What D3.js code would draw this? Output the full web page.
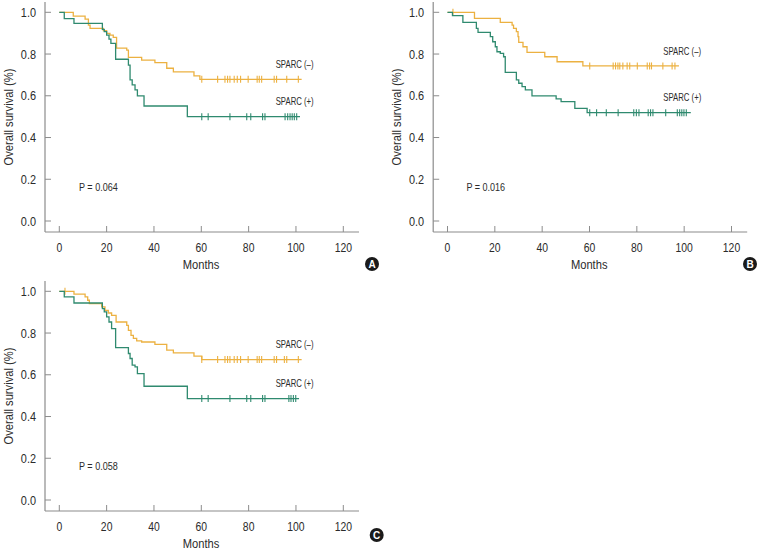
<script src="https://cdn.jsdelivr.net/npm/d3@7"></script>
<style>
  body { margin: 0; background: #fff; }
  text { font-family: "Liberation Sans", Arial, sans-serif; fill: #2b2b2b; }
</style>
<div id="vis"></div>
<script>
  // tick values
  const monthTicks = [0, 20, 40, 60, 80, 100, 120]
  const survTicks = [0, 0.2, 0.4, 0.6, 0.8, 1.0]

  // panel A
  const aNegTime = [0, 5.9, 10.9, 12.3, 13, 18.6, 20, 21.4, 22.8, 24.2, 28.5, 29.2, 34.8, 40.4, 45.4, 48.2, 56.9, 59.4]
  const aNegSurv = [1, 0.982, 0.967, 0.939, 0.923, 0.912, 0.899, 0.891, 0.880, 0.828, 0.819, 0.784, 0.771, 0.759, 0.732, 0.715, 0.695, 0.679]
  const aNegCens = [60.2, 66.9, 70, 71.1, 72.1, 73.9, 75.2, 76.6, 79.8, 83.6, 84.5, 85.5, 90.8, 91.8, 96.1, 101]
  const aPosTime = [0, 2.1, 6.2, 18.2, 19, 20, 21, 21.8, 23.8, 29.2, 29.9, 30.8, 32, 33, 35.8, 54.1]
  const aPosSurv = [1, 0.970, 0.947, 0.918, 0.907, 0.891, 0.871, 0.851, 0.775, 0.747, 0.676, 0.652, 0.628, 0.600, 0.551, 0.500]
  const aPosCens = [60.2, 62.9, 72.1, 79.2, 80.9, 85.9, 86.9, 95.4, 96.5, 97.5, 98.4, 99.3, 100.3]

  // panel B
  const bNegTime = [0, 11.4, 22.3, 27.3, 27.9, 29.1, 29.8, 30.1, 31.9, 33.6, 41.1, 46.3, 57.2]
  const bNegSurv = [1, 0.971, 0.952, 0.939, 0.923, 0.907, 0.883, 0.856, 0.835, 0.808, 0.787, 0.763, 0.743]
  const bNegCens = [2.3, 60.1, 70, 71, 72, 72.8, 74.1, 75.9, 77, 80.2, 84.4, 85.4, 86.2, 91, 94.9, 96.1]
  const bPosTime = [0, 2.1, 6.5, 12.2, 12.9, 18.1, 19.1, 20.2, 20.9, 22.3, 23.7, 24.4, 29.1, 30.1, 31.5, 32.9, 35.7, 45.9, 48, 53.8, 59]
  const bPosSurv = [1, 0.984, 0.952, 0.923, 0.904, 0.883, 0.859, 0.835, 0.811, 0.803, 0.787, 0.712, 0.676, 0.660, 0.644, 0.628, 0.600, 0.585, 0.572, 0.540, 0.519]
  const bPosCens = [60.1, 63, 67.1, 72.1, 78.7, 79.8, 80.9, 84.8, 85.8, 86.8, 92.2, 97.1, 98.1, 99, 99.9, 100.9]

  // panel C
  const cNegTime = [0, 6.2, 10.9, 12, 12.7, 17.9, 19.3, 20.7, 22.1, 24, 28.5, 29.2, 30.3, 31.3, 32.7, 34.8, 40.4, 45.4, 48.2, 56.9, 60.2]
  const cNegSurv = [1, 0.986, 0.973, 0.957, 0.941, 0.925, 0.909, 0.896, 0.885, 0.853, 0.837, 0.813, 0.789, 0.774, 0.762, 0.757, 0.746, 0.718, 0.705, 0.689, 0.673]
  const cNegCens = [2.4, 60.2, 66.9, 70, 71.1, 72.1, 73.9, 75.2, 76.6, 79.8, 83.6, 84.5, 85.5, 90.8, 91.8, 95.1, 96.1, 101]
  const cPosTime = [0, 2.1, 6.2, 18.2, 19, 20, 21, 22.1, 23.8, 29.2, 29.9, 30.8, 32, 33, 35.8, 54.1]
  const cPosSurv = [1, 0.973, 0.944, 0.917, 0.901, 0.877, 0.853, 0.821, 0.730, 0.702, 0.678, 0.646, 0.638, 0.606, 0.545, 0.486]
  const cPosCens = [60.2, 62.9, 72.1, 79.2, 80.9, 85.9, 86.9, 97, 97.9, 98.9, 99.9]

  const panels = [
    { letter: 'A', p: 'P = 0.064', dx: 0, dy: 0, badge: [372, 264],
      neg: [aNegTime, aNegSurv, aNegCens, 102.4], pos: [aPosTime, aPosSurv, aPosCens, 101.7],
      negLab: [275.7, 64], posLab: [275.7, 101.7] },
    { letter: 'B', p: 'P = 0.016', dx: 388.2, dy: 0, badge: [750, 264],
      neg: [bNegTime, bNegSurv, bNegCens, 97.8], pos: [bPosTime, bPosSurv, bPosCens, 102.8],
      negLab: [663.3, 51.7], posLab: [663.3, 97.3] },
    { letter: 'C', p: 'P = 0.058', dx: 0, dy: 279, badge: [376.7, 535],
      neg: [cNegTime, cNegSurv, cNegCens, 102.4], pos: [cPosTime, cPosSurv, cPosCens, 101.3],
      negLab: [275.7, 344], posLab: [275.7, 383.3] }
  ]

  const orange = '#ecb141'
  const green = '#2f8a6f'
  const axisGrey = '#8c8c8c'

  var svg = d3.select('#vis')
    .append('svg')
    .attr('width', 770)
    .attr('height', 550)

  function survAt(times, surv, t) {
    var s = surv[0]
    for (var i = 0; i < times.length; i++) { if (times[i] <= t) s = surv[i] }
    return s
  }

  // condensed text helper
  function label(g, x, y, str, size, anchor, squeeze, rot) {
    return g.append('text')
      .attr('transform', 'translate(' + x + ',' + y + ')' + (rot ? 'rotate(' + rot + ')' : '') + 'scale(' + (squeeze || 0.86) + ',1)')
      .attr('dy', '0.35em')
      .attr('text-anchor', anchor || 'start')
      .style('font-size', size + 'px')
      .text(str)
  }

  panels.forEach(function (pn) {
    var g = svg.append('g')
    var x = d3.scaleLinear().domain([0, 120]).range([59.3 + pn.dx, 343.3 + pn.dx])
    var y = d3.scaleLinear().domain([0, 1]).range([221 + pn.dy, 12.3 + pn.dy])
    var axX = 45 + pn.dx, axB = 232 + pn.dy

    // axis lines
    g.append('line').attr('x1', axX).attr('x2', axX).attr('y1', 2 + pn.dy).attr('y2', axB)
      .attr('stroke', axisGrey).attr('stroke-width', 1.2)
    g.append('line').attr('x1', axX).attr('x2', 359 + pn.dx).attr('y1', axB).attr('y2', axB)
      .attr('stroke', axisGrey).attr('stroke-width', 1.2)

    // y ticks (inward)
    g.selectAll('.yt').data(survTicks).enter().append('line')
      .attr('x1', axX).attr('x2', axX + 6)
      .attr('y1', d => y(d)).attr('y2', d => y(d))
      .attr('stroke', axisGrey)
    survTicks.forEach(d => label(g, axX - 9, y(d), d.toFixed(1), 13, 'end', 0.84))

    // x ticks (inward)
    g.selectAll('.xt').data(monthTicks).enter().append('line')
      .attr('x1', d => x(d)).attr('x2', d => x(d))
      .attr('y1', axB).attr('y2', axB - 6)
      .attr('stroke', axisGrey)
    monthTicks.forEach(d => label(g, x(d), axB + 15, d, 13, 'middle', 0.8))

    label(g, 201 + pn.dx, axB + 32, 'Months', 13, 'middle', 0.86)
    label(g, 8 + pn.dx, 117 + pn.dy, 'Overall survival (%)', 13, 'middle', 0.86, -90)
    label(g, 79 + pn.dx - (pn.letter === 'B' ? 0.8 : 0), 187.7 + pn.dy, pn.p, 10.5, 'start', 0.86)

    // curves
    var line = d3.line().x(d => x(d[0])).y(d => y(d[1])).curve(d3.curveStepAfter)
    ;[[pn.neg, orange], [pn.pos, green]].forEach(function (c) {
      var times = c[0][0], surv = c[0][1], cens = c[0][2], end = c[0][3]
      var pts = times.map((t, i) => [t, surv[i]])
      pts.push([end, surv[surv.length - 1]])
      g.append('path').attr('d', line(pts))
        .attr('fill', 'none').attr('stroke', c[1]).attr('stroke-width', 1.3)
      g.selectAll(null).data(cens).enter().append('line')
        .attr('x1', d => x(d)).attr('x2', d => x(d))
        .attr('y1', d => y(survAt(times, surv, d)) - 3.5)
        .attr('y2', d => y(survAt(times, surv, d)) + 3.5)
        .attr('stroke', c[1]).attr('stroke-width', 1.1)
    })

    label(g, pn.negLab[0], pn.negLab[1], 'SPARC (\u2013)', 10.5, 'start', 0.74)
    label(g, pn.posLab[0], pn.posLab[1], 'SPARC (+)', 10.5, 'start', 0.74)

    // panel badge
    g.append('circle').attr('cx', pn.badge[0]).attr('cy', pn.badge[1]).attr('r', 7)
      .attr('fill', '#1a1a1a')
    g.append('text').attr('x', pn.badge[0]).attr('y', pn.badge[1]).attr('dy', '0.36em')
      .attr('text-anchor', 'middle').style('font-size', '10px').style('font-weight', 'bold')
      .style('fill', '#fff')
      .text(pn.letter)
  })
</script>
